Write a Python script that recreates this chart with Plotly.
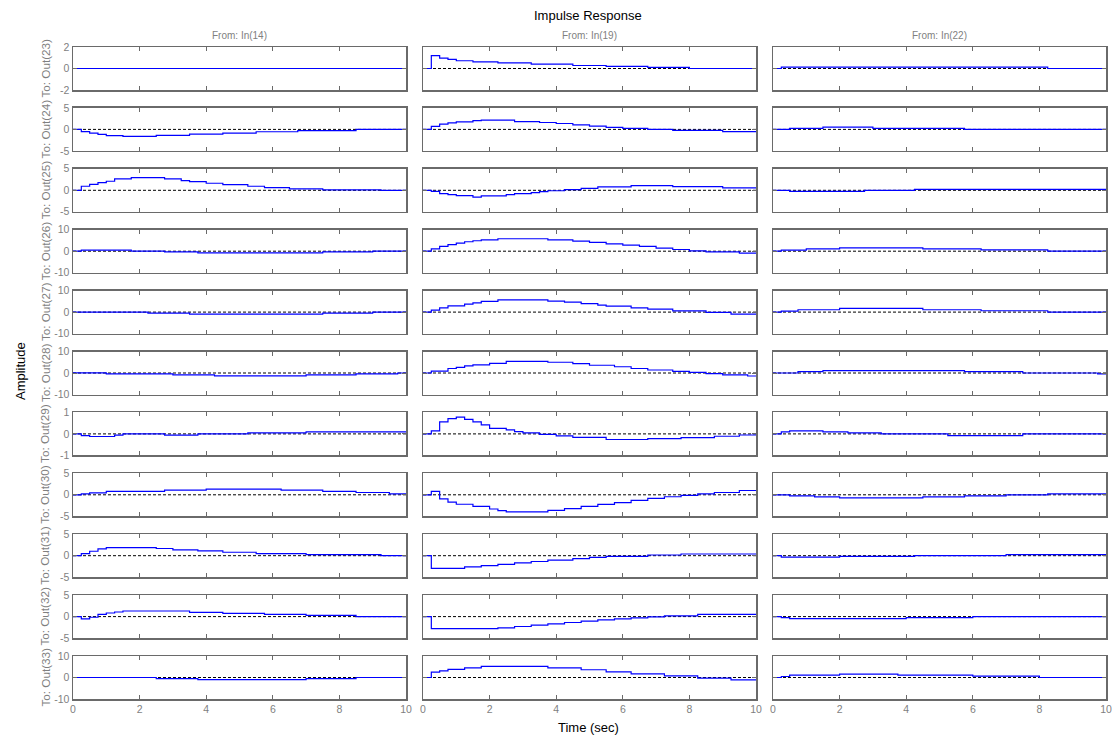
import plotly.graph_objects as go
from plotly.subplots import make_subplots

# ---------------- data (step breakpoints: (time, value)) ----------------
inputs = ["In(14)", "In(19)", "In(22)"]
outputs = ["Out(23)", "Out(24)", "Out(25)", "Out(26)", "Out(27)", "Out(28)",
           "Out(29)", "Out(30)", "Out(31)", "Out(32)", "Out(33)"]
y_limits = [2, 5, 5, 10, 10, 10, 1, 5, 5, 5, 10]
x_ticks = [0, 2, 4, 6, 8, 10]
t_end = 10

# From In(14)
o23_i14 = [(0, 0)]
o24_i14 = [(0, 0), (0.25, -0.5), (0.5, -0.85), (0.75, -1.15), (1.0, -1.45), (1.5, -1.6),
           (2.5, -1.4), (3.5, -1.1), (4.5, -0.85), (5.5, -0.55), (6.75, -0.3), (8.5, 0)]
o25_i14 = [(0, 0), (0.25, 0.94), (0.5, 1.4), (0.75, 1.8), (1.0, 2.1), (1.25, 2.65), (1.75, 2.97),
           (2.75, 2.65), (3.25, 2.27), (3.5, 2.0), (4.0, 1.64), (4.5, 1.33), (5.25, 0.94),
           (5.75, 0.62), (6.5, 0.31), (7.5, 0.08), (9.25, 0)]
o26_i14 = [(0, 0), (0.25, 0.5), (1.75, 0), (2.75, -0.3), (3.75, -0.8), (7.5, -0.3), (9.0, 0)]
o27_i14 = [(0, 0), (2.25, -0.5), (3.5, -0.95), (7.5, -0.5), (9.0, 0)]
o28_i14 = [(0, 0.1), (1.0, -0.45), (3.0, -0.9), (4.25, -1.35), (7.0, -0.9), (8.5, -0.45), (9.75, 0)]
o29_i14 = [(0, 0), (0.25, -0.08), (0.5, -0.12), (1.25, -0.06), (1.5, 0), (2.75, -0.06),
           (3.75, 0), (5.25, 0.05), (7.0, 0.09)]
o30_i14 = [(0, 0), (0.25, 0.23), (0.5, 0.47), (1.0, 0.78), (2.75, 1.08), (4.0, 1.3),
           (6.25, 1.08), (7.5, 0.78), (8.5, 0.54), (9.5, 0.23)]
o31_i14 = [(0, 0), (0.25, 0.48), (0.5, 1.03), (0.75, 1.59), (1.0, 1.9), (2.5, 1.67), (3.0, 1.35),
           (3.75, 1.1), (4.5, 0.8), (5.5, 0.48), (7.0, 0.24), (9.25, 0)]
o32_i14 = [(0, 0), (0.25, -0.55), (0.5, -0.15), (0.75, 0.53), (1.0, 0.84), (1.25, 1.07), (1.5, 1.3),
           (3.5, 1.0), (4.5, 0.76), (5.75, 0.53), (7.0, 0.3), (8.5, 0)]
o33_i14 = [(0, 0), (2.5, -0.5), (3.75, -0.95), (7.0, -0.5), (8.5, 0)]

# From In(19)
o23_i19 = [(0, 0), (0.25, 1.19), (0.5, 0.97), (0.75, 0.84), (1.0, 0.72), (1.5, 0.62), (2.25, 0.53),
           (3.25, 0.41), (4.5, 0.28), (5.5, 0.19), (6.75, 0.1), (8.0, 0)]
o24_i19 = [(0, 0), (0.25, 0.69), (0.5, 1.22), (0.75, 1.53), (1.0, 1.76), (1.5, 2.06), (1.75, 2.14),
           (2.75, 1.83), (3.5, 1.6), (4.0, 1.37), (4.5, 1.07), (5.0, 0.76), (5.5, 0.46),
           (6.0, 0.23), (6.75, 0), (7.5, -0.23), (9.0, -0.53)]
o25_i19 = [(0, 0), (0.25, -0.23), (0.5, -0.78), (0.75, -1.0), (1.0, -1.25), (1.5, -1.6),
           (1.75, -1.3), (2.5, -1.0), (2.75, -0.78), (3.25, -0.55), (3.5, -0.3), (3.75, -0.1),
           (4.25, 0.15), (4.75, 0.47), (5.25, 0.78), (6.25, 1.1), (7.5, 0.86), (9.0, 0.55)]
o26_i19 = [(0, 0), (0.25, 1.1), (0.5, 2.2), (0.75, 3.1), (1.0, 3.75), (1.25, 4.4), (1.5, 4.85),
           (1.75, 5.3), (2.25, 5.8), (3.75, 5.3), (4.5, 4.7), (5.0, 4.06), (5.5, 3.4), (6.0, 2.8),
           (6.5, 2.2), (7.0, 1.4), (7.5, 0.8), (8.0, 0.16), (8.5, -0.3), (9.5, -0.9)]
o27_i19 = [(0, 0), (0.25, 0.9), (0.5, 2.0), (0.75, 2.9), (1.25, 3.7), (1.5, 4.3), (1.75, 5.0),
           (2.25, 5.7), (3.75, 5.1), (4.25, 4.65), (4.75, 3.9), (5.25, 3.25), (5.5, 2.8),
           (6.25, 2.0), (6.75, 1.4), (7.5, 0.6), (8.5, -0.15), (9.25, -0.9)]
o28_i19 = [(0, 0), (0.25, 0.9), (0.75, 2.1), (1.0, 2.6), (1.25, 3.3), (1.5, 3.8), (2.0, 4.5),
           (2.5, 5.45), (3.75, 5.0), (4.5, 4.4), (5.0, 3.6), (5.75, 2.9), (6.25, 2.1), (6.75, 1.4),
           (7.5, 0.75), (8.0, 0.3), (8.5, -0.3), (9.0, -0.9), (9.75, -1.4)]
o29_i19 = [(0, 0), (0.25, 0.14), (0.5, 0.56), (0.75, 0.71), (1.0, 0.78), (1.25, 0.68), (1.5, 0.56),
           (1.75, 0.42), (2.0, 0.26), (2.5, 0.19), (2.75, 0.11), (3.0, 0.05), (3.5, -0.02),
           (4.0, -0.09), (4.5, -0.16), (5.5, -0.26), (6.75, -0.22), (7.75, -0.17), (8.75, -0.11),
           (9.5, -0.05)]
o30_i19 = [(0, 0), (0.25, 0.78), (0.5, -0.93), (0.75, -1.7), (1.0, -2.2), (1.5, -2.7), (2.0, -3.3),
           (2.25, -3.7), (2.5, -3.95), (3.75, -3.6), (4.25, -3.2), (4.75, -2.7), (5.25, -2.25),
           (5.75, -1.8), (6.25, -1.3), (6.75, -0.85), (7.25, -0.45), (7.75, -0.15), (8.25, 0.23),
           (8.75, 0.54), (9.5, 1.0)]
o31_i19 = [(0, 0), (0.25, -2.94), (1.25, -2.6), (1.75, -2.3), (2.25, -2.0), (2.75, -1.67),
           (3.25, -1.35), (3.75, -1.03), (4.5, -0.7), (5.0, -0.4), (5.5, -0.16), (6.75, 0.16),
           (7.75, 0.4)]
o32_i19 = [(0, 0), (0.25, -2.8), (2.25, -2.6), (2.75, -2.3), (3.25, -2.0), (3.75, -1.68),
           (4.25, -1.37), (4.75, -1.07), (5.25, -0.76), (5.75, -0.53), (6.25, -0.3), (6.75, -0.08),
           (7.25, 0.15), (8.25, 0.53)]
o33_i19 = [(0, 0), (0.25, 2.5), (0.5, 3.1), (0.75, 3.75), (1.25, 4.5), (1.75, 5.15), (3.75, 4.5),
           (4.75, 3.6), (5.5, 2.65), (6.25, 1.7), (7.25, 0.8), (8.25, -0.3), (9.25, -1.1)]

# From In(22)
o23_i22 = [(0, 0), (0.25, 0.12), (8.25, 0)]
o24_i22 = [(0, 0), (0.5, 0.23), (1.5, 0.53), (3.0, 0.23), (5.75, 0)]
o25_i22 = [(0, 0), (0.5, -0.23), (2.75, 0), (4.25, 0.23)]
o26_i22 = [(0, 0), (0.25, 0.47), (1.0, 1.1), (2.0, 1.56), (4.5, 1.1), (6.25, 0.62), (8.25, 0)]
o27_i22 = [(0, 0), (0.25, 0.47), (0.75, 1.1), (2.0, 1.7), (4.5, 1.1), (6.25, 0.62), (8.25, 0)]
o28_i22 = [(0, 0), (0.75, 0.6), (1.5, 1.06), (5.75, 0.6), (7.5, 0), (9.75, -0.45)]
o29_i22 = [(0, 0), (0.25, 0.09), (0.5, 0.14), (1.5, 0.09), (2.25, 0.05), (3.25, 0), (5.25, -0.08),
           (7.5, 0)]
o30_i22 = [(0, 0), (0.5, -0.23), (1.25, -0.47), (2.0, -0.7), (4.5, -0.47), (5.75, -0.23),
           (7.0, 0), (8.25, 0.23)]
o31_i22 = [(0, 0), (0.25, -0.32), (2.0, -0.16), (4.25, 0), (7.0, 0.24)]
o32_i22 = [(0, 0), (0.25, -0.23), (0.5, -0.46), (4.0, -0.23), (6.0, 0)]
o33_i22 = [(0, 0), (0.25, 0.47), (0.5, 1.1), (2.0, 1.56), (3.75, 1.1), (6.0, 0.62), (8.0, 0)]

responses = [
    [o23_i14, o23_i19, o23_i22],
    [o24_i14, o24_i19, o24_i22],
    [o25_i14, o25_i19, o25_i22],
    [o26_i14, o26_i19, o26_i22],
    [o27_i14, o27_i19, o27_i22],
    [o28_i14, o28_i19, o28_i22],
    [o29_i14, o29_i19, o29_i22],
    [o30_i14, o30_i19, o30_i22],
    [o31_i14, o31_i19, o31_i22],
    [o32_i14, o32_i19, o32_i22],
    [o33_i14, o33_i19, o33_i22],
]

# ---------------- layout geometry (screen pixels of the target) ----------------
W, H = 1120, 739
OFF = 8  # page body margin offset
col_left = [73, 423, 773]
col_w = 333
row_top0, row_pitch, row_h = 47, 60.9, 43


def px(x):
    return (x - OFF) / W


def py(y):
    return 1 - (y - OFF) / H


FRAME = "#6a6a6a"
TXT = "#7f7f7f"
FONT = "Liberation Sans, Arial, Helvetica, sans-serif"

nrows, ncols = len(outputs), len(inputs)
fig = make_subplots(rows=nrows, cols=ncols)

for r in range(nrows):
    for c in range(ncols):
        pts = responses[r][c]
        xs = [p[0] for p in pts] + [t_end]
        ys = [p[1] for p in pts] + [pts[-1][1]]
        fig.add_trace(go.Scatter(x=[0, t_end], y=[0, 0], mode="lines",
                                 line=dict(color="black", width=1, dash="3px,2px"),
                                 hoverinfo="skip", showlegend=False), row=r + 1, col=c + 1)
        fig.add_trace(go.Scatter(x=xs, y=ys, mode="lines", line_shape="hv",
                                 line=dict(color="#0000ff", width=1.2),
                                 hoverinfo="skip", showlegend=False), row=r + 1, col=c + 1)

        k = r * ncols + c + 1
        sfx = "" if k == 1 else str(k)
        top = row_top0 + r * row_pitch
        lim = y_limits[r]
        fig.layout["xaxis" + sfx].update(
            domain=[px(col_left[c]), px(col_left[c] + col_w)], range=[0, t_end],
            tickvals=x_ticks, automargin=False,
            ticktext=[str(v) for v in x_ticks], showticklabels=(r == nrows - 1),
            ticks="inside", ticklen=4, tickcolor=FRAME, showline=True, linecolor=FRAME,
            linewidth=1.5, mirror="ticks", showgrid=False, zeroline=False,
            tickfont=dict(family=FONT, size=10.5, color=TXT), fixedrange=True)
        fig.layout["yaxis" + sfx].update(
            domain=[py(top + row_h), py(top)], range=[-lim, lim], tickvals=[-lim, 0, lim],
            automargin=False,
            ticktext=[str(-lim), "0", str(lim)], showticklabels=(c == 0),
            ticks="inside", ticklen=4, tickcolor=FRAME, showline=True, linecolor=FRAME,
            linewidth=1.5, mirror="ticks", showgrid=False, zeroline=False,
            tickfont=dict(family=FONT, size=10.5, color=TXT), fixedrange=True)

annotations = []
annotations.append(dict(text="Impulse Response", x=px(588), y=py(16), xref="paper", yref="paper",
                        showarrow=False, font=dict(family=FONT, size=13, color="black"),
                        xanchor="center", yanchor="middle"))
for c, name in enumerate(inputs):
    annotations.append(dict(text="From: " + name, x=px(col_left[c] + col_w / 2), y=py(36),
                            xref="paper", yref="paper", showarrow=False,
                            font=dict(family=FONT, size=10, color=TXT),
                            xanchor="center", yanchor="middle"))
for r, name in enumerate(outputs):
    yc = row_top0 + r * row_pitch + row_h / 2
    annotations.append(dict(text="To: " + name, x=px(45), y=py(yc), xref="paper", yref="paper",
                            showarrow=False, textangle=-90,
                            font=dict(family=FONT, size=11.7, color=TXT),
                            xanchor="center", yanchor="middle"))
annotations.append(dict(text="Amplitude", x=px(20), y=py(371), xref="paper", yref="paper",
                        showarrow=False, textangle=-90, font=dict(family=FONT, size=13, color="black"),
                        xanchor="center", yanchor="middle"))
annotations.append(dict(text="Time (sec)", x=px(588), y=py(727), xref="paper", yref="paper",
                        showarrow=False, font=dict(family=FONT, size=13, color="black"),
                        xanchor="center", yanchor="middle"))

fig.update_layout(width=W, height=H, margin=dict(l=0, r=0, t=0, b=0, pad=0, autoexpand=False),
                  paper_bgcolor="white", plot_bgcolor="white",
                  annotations=annotations, showlegend=False,
                  font=dict(family=FONT))

fig.write_html("out.html", config={"displayModeBar": False, "staticPlot": True})
